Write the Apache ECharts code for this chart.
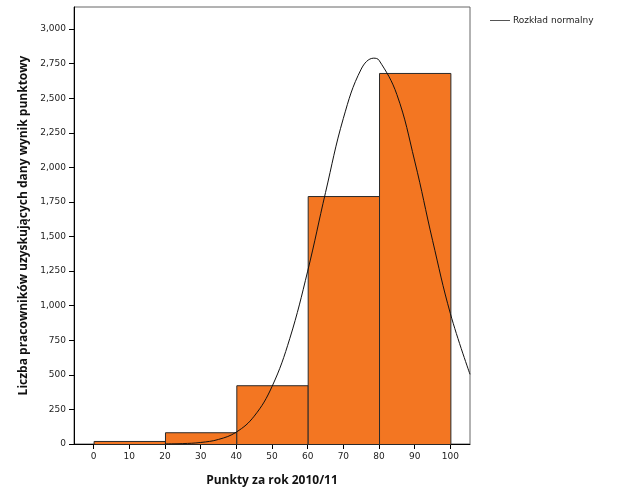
<!DOCTYPE html>
<html>
<head>
<meta charset="utf-8">
<script src="https://cdn.jsdelivr.net/npm/echarts@6/dist/echarts.min.js"></script>
<style>html,body{margin:0;padding:0;background:#fff}#c{width:629px;height:504px}</style>
</head>
<body>
<div id="c"></div>
<script>
// Histogram bins (edges) and counts
var binEdges = [0, 20, 40, 60, 80, 100];
var binCounts = [22, 85, 425, 1793, 2683];
// Normal curve
var curveX = [20, 25, 30, 35, 40, 45, 50, 55, 60, 65, 70, 75, 78.5, 80, 85, 90, 95, 100, 105.5];
var curveY = [1, 3, 11, 33, 86, 201, 415, 764, 1250, 1818, 2355, 2711, 2790, 2775, 2527, 2046, 1473, 943, 504];
var xTicks = [0, 10, 20, 30, 40, 50, 60, 70, 80, 90, 100];
var yTicks = [0, 250, 500, 750, 1000, 1250, 1500, 1750, 2000, 2250, 2500, 2750, 3000];
var legendName = 'Rozkład normalny';

var barData = binCounts.map(function (c, i) { return [binEdges[i], binEdges[i + 1], c]; });
var lineData = curveX.map(function (x, i) { return [x, curveY[i]]; });

var chart = echarts.init(document.getElementById('c'), null, {renderer: 'canvas'});
chart.setOption({
  animation: false,
  backgroundColor: '#fff',
  grid: {left: 74, right: 159, top: 7, bottom: 60, show: true, borderColor: '#666', borderWidth: 1, backgroundColor: 'transparent'},
  graphic: [
    {type: 'line', shape: {x1: 490, y1: 20.5, x2: 510, y2: 20.5}, style: {stroke: '#555', lineWidth: 1}},
    {type: 'text', x: 513, y: 20.5, style: {text: legendName, fontFamily: 'DejaVu Sans', fontSize: 9, fill: '#222', textVerticalAlign: 'middle', verticalAlign: 'middle'}}
  ],
  xAxis: {
    type: 'value', min: -5.5, max: 105.5,
    name: 'Punkty za rok 2010/11', nameLocation: 'middle', nameGap: 31,
    nameTextStyle: {fontFamily: 'Open Sans', fontWeight: 'bold', fontSize: 12, color: '#111'},
    splitLine: {show: false},
    axisLine: {show: true, onZero: false, lineStyle: {color: '#000', width: 1}},
    axisTick: {show: true, length: 5, lineStyle: {color: '#000'}, customValues: xTicks},
    axisLabel: {customValues: xTicks, fontFamily: 'DejaVu Sans', fontSize: 9, color: '#222', margin: 8}
  },
  yAxis: {
    type: 'value', min: 0, max: 3160,
    name: 'Liczba pracowników uzyskujących dany wynik punktowy', nameLocation: 'middle', nameGap: 44,
    nameTextStyle: {fontFamily: 'Open Sans', fontWeight: 'bold', fontSize: 12, color: '#111'},
    splitLine: {show: false},
    axisLine: {show: true, onZero: false, lineStyle: {color: '#000', width: 1}},
    axisTick: {show: true, length: 5, lineStyle: {color: '#000'}, customValues: yTicks},
    axisLabel: {customValues: yTicks, fontFamily: 'DejaVu Sans', fontSize: 9, color: '#222', margin: 8,
      formatter: function (v) { return v.toLocaleString('en-US'); }}
  },
  series: [
    {
      type: 'custom',
      name: 'hist',
      data: barData,
      encode: {x: [0, 1], y: 2},
      renderItem: function (params, api) {
        var p0 = api.coord([api.value(0), api.value(2)]);
        var p1 = api.coord([api.value(1), 0]);
        return {
          type: 'rect',
          shape: {x: p0[0] + 0.5, y: p0[1] + 0.5, width: p1[0] - p0[0], height: p1[1] - p0[1]},
          style: {fill: '#F37622', stroke: '#2a2a2a', lineWidth: 1}
        };
      },
      z: 2
    },
    {
      type: 'line',
      name: legendName,
      data: lineData,
      smooth: 0.4,
      symbol: 'none',
      clip: true,
      lineStyle: {color: '#111', width: 1},
      z: 3
    }
  ]
});
</script>
</body>
</html>
